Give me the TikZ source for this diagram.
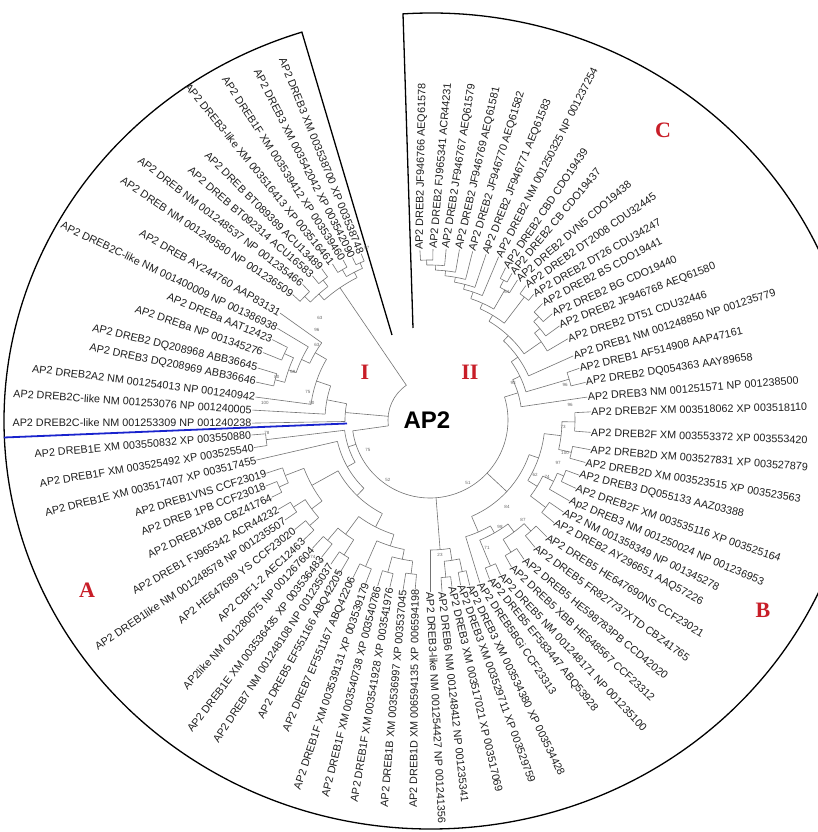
\documentclass[tikz,border=0pt]{standalone}
\usepackage{fontspec}
\setmainfont{Liberation Sans}
\newfontfamily\treesans{Liberation Sans}
\newfontfamily\treeserif{Liberation Serif}
\usepackage{tikz}
\definecolor{cladered}{RGB}{200,30,40}
\definecolor{hiblue}{RGB}{25,35,205}
\newcommand{\leaffont}{\treesans\fontsize{10.8}{12}\selectfont}
\newcommand{\cladefont}{\treeserif\bfseries\fontsize{22}{22}\selectfont}
\newcommand{\bootfont}{\treesans\fontsize{4.5}{5}\selectfont}
\newcommand{\rootfont}{\treesans\bfseries\fontsize{24}{24}\selectfont}
\tikzstyle{branch}=[draw=black!55, line width=0.6pt]
\tikzstyle{rim}=[draw=black, line width=1.3pt]
\tikzstyle{leafR}=[anchor=west, inner sep=0.3pt, text=black!88, font=\leaffont]
\tikzstyle{leafL}=[anchor=east, inner sep=0.3pt, text=black!88, font=\leaffont]
\tikzstyle{clade}=[text=cladered, font=\cladefont]
\tikzstyle{boot}=[text=black!60, font=\bootfont, inner sep=0pt]

\begin{document}
\begin{tikzpicture}[x=1pt,y=1pt]
    \useasboundingbox (-430,-412) rectangle (387,420);
    \fill[white] (-430,-412) rectangle (387,420);

    % outer frame with the open wedge at the top
    \coordinate (wedgeR) at (-17,92);
    \coordinate (wedgeL) at (-38,85);
    \draw[rim] (wedgeR) -- (-27,406.1)
      arc[start angle=93.76, end angle=-252.4, x radius=427pt, y radius=408pt] -- (wedgeL);

    % root and clade II backbone
    \draw[branch] (-172:42pt) arc[start angle=-172, end angle=-235.75, radius=42pt];
    \draw[branch] (-172:42pt) -- (-172:78pt);
    \draw[branch] (-172:78pt) arc[start angle=-172, end angle=17.15, radius=78pt];

    % inner clades: first child angle / second child angle / radius / parent radius
    \foreach \sa/\ea/\rr/\pr in {
      93.4/89/160/155, 91.2/84.6/155/150, 87.9/80.2/150/145, 84.05/75.8/145/140,
      79.9/71.3/140/135, 75.6/67.2/135/128, 63.6/60.8/158/150, 62.2/58/150/128,
      71.4/60.1/128/122, 54.5/50.5/155/122, 65.75/52.5/122/115, 46/41/150/143,
      43.5/36/143/136, 39.75/30.5/136/115, 59.1/35.1/115/108, 47.1/24.1/108/100,
      19.1/13.6/145/100, 35.6/16.35/100/92, 26/8.3/92/78,
      2.9/-4.4/145/132, -10.5/-15.3/145/132, -0.75/-12.9/132/115, -20.3/-25.1/145/138,
      -22.7/-30.1/138/126, -34.6/-39.6/145/126, -26.4/-37.1/126/115, -6.8/-31.75/115/105,
      -45/-50.5/150/140, -56/-61/155/140, -47.75/-58.5/140/130, -65.5/-69.5/158/130,
      -53.1/-67.5/130/122, -60.3/-73/122/105, -19.3/-66.65/105/78,
      -76.5/-79.5/155/142, -82.5/-86/158/142, -78/-84.25/142/130, -81.1/-90/130/78,
      -95/-99/155/142, -103.5/-107.5/158/142, -97/-105.5/142/132, -111.5/-116/160/132,
      -101.25/-113.75/132/120, -120.5/-124.5/160/142, -128.3/-132.5/158/142,
      -122.5/-130.4/142/120, -107.5/-126.45/120/105, -136.5/-141/160/148,
      -145.4/-149.5/162/148, -138.75/-147.45/148/135, -154/-158.1/165/155,
      -156.05/-162/155/135, -143.1/-159/135/105, -117/-151.05/105/95,
      -171.1/-175.2/165/86, -134/-167/95/86, -150.5/-173.15/86/78,
      -192.3/-196.8/160/150, -202/-207/160/150, -194.55/-204.5/150/142,
      -199.5/-211/142/133, -205.25/-215.5/133/120, -187.5/-210.4/120/105,
      -183.2/-198.95/105/85, -179/-191.1/85/42,
      -244.5/-247.5/172/166, -238/-241.5/174/166, -239.75/-246/166/160,
      -230.8/-234.4/176/168, -222.4/-226.8/176/168, -224.6/-232.6/168/160,
      -228.6/-242.9/160/42}{
      \pgfmathsetmacro{\m}{(\sa+\ea)/2}
      \draw[branch] (\sa:\rr pt) arc[start angle=\sa, end angle=\ea, radius=\rr pt];
      \draw[branch] (\m:\pr pt) -- (\m:\rr pt);
    }

    % leaves, right half
    \foreach \ang/\rad/\base/\dir/\txt [count=\n] in {
      93.4/170/160/89/AP2 DREB2 JF946766 AEQ61578,
      89/171/160/85/AP2 DREB2 FJ965341 ACR44231,
      84.6/172/155/81/AP2 DREB2 JF946767 AEQ61579,
      80.2/173/150/77/AP2 DREB2 JF946769 AEQ61581,
      75.8/174/145/73/AP2 DREB2 JF946770 AEQ61582,
      71.3/175/140/68/AP2 DREB2 JF946771 AEQ61583,
      67.2/177/135/63/AP2 DREB2 NM 001250325 NP 001237254,
      63.6/170/158/56/AP2 DREB2 CBD CDO19439,
      60.8/168/158/50/AP2 DREB2 CB CDO19437,
      58/165/150/41/AP2 DREB2 DVN5 CDO19438,
      54.5/165/155/35/AP2 DREB2 DT2008 CDU32445,
      50.5/163/155/30/AP2 DREB2 DT26 CDU34247,
      46/162/150/28/AP2 DREB2 BS CDO19441,
      41/162/150/24/AP2 DREB2 BG CDO19440,
      36/160/143/21/AP2 DREB2 JF946768 AEQ61580,
      30.5/160/136/18/AP2 DREB2 DT51 CDU32446,
      24.1/157/108/17.5/AP2 DREB1 NM 001248850 NP 001235779,
      19.1/158/145/13/AP2 DREB1 AF514908 AAP47161,
      13.6/160/145/8.5/AP2 DREB2 DQ054363 AAY89658,
      8.3/159/92/4.6/AP2 DREB3 NM 001251571 NP 001238500,
      2.9/161/145/1.3/AP2 DREB2F XM 003518062 XP 003518110,
      -4.4/161/145/-2/AP2 DREB2F XM 003553372 XP 003553420,
      -10.5/163/145/-4.6/AP2 DREB2D XM 003527831 XP 003527879,
      -15.3/161/145/-9.5/AP2 DREB2D XM 003523515 XP 003523563,
      -20.3/159/145/-13.5/AP2 DREB3 DQ055133 AAZ03388,
      -25.1/161/145/-18.9/AP2 DREB2F XM 003535116 XP 003525164,
      -30.1/161/138/-23/Ap2 DREB3 NM 001250024 NP 001236953,
      -34.6/162/145/-25.9/AP2 NM 001358349 NP 001345278,
      -39.6/161/145/-28.3/AP2 DREB2 AY296651 AAQ57226,
      -45/165/150/-32/AP2 DREB5 HE647690NS CCF23021,
      -50.5/165/150/-36/AP2 DREB5 FR827737XTD CBZ41765,
      -56/168/155/-39.5/AP2 DREB5 HE598783PB CCD42020,
      -61/168/155/-43/AP2 DREB5 XBB HE648567 CCF23312,
      -65.5/170/158/-47/AP2 DREB5 NM 001248171 NP 001235100,
      -69.5/170/158/-51/AP2 DREB5 EF583447 ABQ53928,
      -73/170/122/-56/AP2 DREB5BGi CCF23313,
      -76.5/170/155/-64/AP2 DREB3 XM 003534380 XP 003534428,
      -79.5/168/155/-70/AP2 DREB3 XM 003529711 XP 003529759,
      -82.5/168/158/-77/AP2 DREB3 XM 003517021 XP 003517069,
      -86/172/158/-83.8/AP2 DREB6 NM 001248412 NP 001235341,
      -90/172/130/-87/AP2 DREB3-like NM 001254427 NP 001241356}{
      \node[leafR, rotate=\dir] (leaf\n) at (\ang:\rad pt) {\txt};
      \draw[branch] (\ang:\base pt) -- (leaf\n.west);
    }

    % leaves, left half
    \foreach \ang/\rad/\base/\dir/\txt [count=\n from 42] in {
      -95/170/155/-90.5/AP2 DREB1D XM 006594135 XP 006594198,
      -99/172/155/-95/AP2 DREB1B XM 003536997 XP 003537045,
      -103.5/172/158/-99.5/AP2 DREB1F XM 003541928 XP 003541976,
      -107.5/174/158/-104/AP2 DREB1F XM 003540738 XP 003540786,
      -111.5/175/160/-108.5/AP2 DREB1F XM 003539131 XP 003539179,
      -116/175/160/-113.5/AP2 DREB7 EF551167 ABQ42206,
      -120.5/175/160/-118.5/AP2 DREB5 EF551166 ABQ42205,
      -124.5/175/160/-123/AP2 DREB7 NM 001248108 NP 001235037,
      -128.3/175/158/-127.3/AP2 DREB1E XM 003536435 XP 003536483,
      -132.5/174/158/-132.5/AP2like NM 001280675 NP 001267604,
      -136.5/174/160/-136.5/AP2 CBF1-2 AEC12463,
      -141/174/160/-141.5/AP2 HE647689 YS CCF23020,
      -145.4/176/162/-146/AP2 DREB1like NM 001248578 NP 001235507,
      -149.5/176/162/-150.5/AP2 DREB1 FJ965342 ACR44232,
      -154/176/165/-155/AP2 DREB1XBB CBZ41764,
      -158.1/177/165/-159.5/AP2 DREB 1PB CCF23018,
      -162/172/155/-163/AP2 DREB1VNS CCF23019,
      -167/178/95/-166/AP2 DREB1E XM 003517407 XP 003517455,
      -171.1/178/165/-170.5/AP2 DREB1F XM 003525492 XP 003525540,
      -175.2/179/165/-175/AP2 DREB1E XM 003550832 XP 003550880,
      -179/178/85/-180/AP2 DREB2C-like NM 001253309 NP 001240238,
      -183.2/178/105/-184/AP2 DREB2C-like NM 001253076 NP 001240005,
      -187.5/176/120/-187.3/AP2 DREB2A2 NM 001254013 NP 001240942,
      -192.3/178/160/-191.5/AP2 DREB3 DQ208969 ABB36646,
      -196.8/180/160/-193.5/AP2 DREB2 DQ208968 ABB36645,
      -202/180/160/-199/AP2 DREBa NP 001345276,
      -207/177/160/-202.5/AP2 DREBa AAT12423,
      -211/178/142/-205.7/AP2 DREB2C-like NM 001400009 NP 001386938,
      -215.5/184/133/-210/AP2 DREB AY244760 AAP83131,
      -222.4/186/176/-214/AP2 DREB NM 001249580 NP 001236509,
      -226.8/186/176/-217.5/AP2 DREB NM 001248537 NP 001235466,
      -230.8/186/176/-221/AP2 DREB BT092314 ACU16583,
      -234.4/186/176/-225/AP2 DREB BT089389 ACU13489,
      -238/184/174/-231/AP2 DREB3-like XM 003516413 XP 003516461,
      -241.5/182/174/-237/AP2 DREB1F XM 003539412 XP 003539460,
      -244.5/180/172/-243/AP2 DREB3 XM 003542042 XP 003542090,
      -247.5/180/172/-248/AP2 DREB3 XM 003538700 XP 003538748}{
      \node[leafL, rotate=\dir+180] (leaf\n) at (\ang:\rad pt) {\txt};
      \draw[branch] (\ang:\base pt) -- (leaf\n.east);
    }

    % highlighted leaf
    \coordinate (blueS) at (-83,-3.5);
    \coordinate (blueE) at (-426,-17.5);
    \draw[hiblue, line width=1.8pt] (blueS) -- (blueE);

    % support values
    \foreach \x/\y/\v [count=\k] in {
      -63/172/97, -110/102/63, -113/90/96, -113/75/63, -137/48/69, -153/43/80,
      -122/28/75, -165/17/100, -118/17/50, -163/-13/78, -62/-30/75, -42/-60/52,
      38/-63/51, 83/37/93, 77/128/61, 135/35/96, 140/15/96, 133/-7/73,
      135/-33/100, 128/-43/97, 105/-55/62, 117/-57/74, 77/-87/84, 93/-100/87,
      70/-107/98, 57/-128/71, 10/-135/23, -117/-137/74, -108/-142/97, -92/-153/98}{
      \node[boot] (boot\k) at (\x,\y) {\v};
    }

    \node[font=\rootfont] (rootname) at (-3,0) {AP2};
    \node[clade] (cladeC) at (233,290) {C};
    \node[clade] (cladeI) at (-65,48) {I};
    \node[clade] (cladeII) at (40,48) {II};
    \node[clade] (cladeA) at (-343,-170) {A};
    \node[clade] (cladeB) at (333,-190) {B};
\end{tikzpicture}
\end{document}
